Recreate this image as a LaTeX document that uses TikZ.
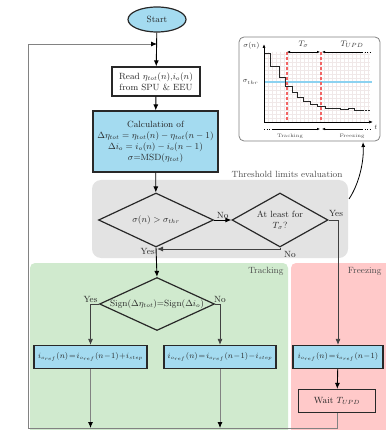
\documentclass[tikz,border=0pt]{standalone}
\usetikzlibrary{shapes.geometric,arrows.meta,calc}
\definecolor{boxblue}{RGB}{164,219,240}
\definecolor{regiongray}{RGB}{227,227,227}
\definecolor{trackgreen}{RGB}{208,234,206}
\definecolor{freezered}{RGB}{255,201,201}
\definecolor{edgedark}{RGB}{40,40,40}
\definecolor{loopgray}{RGB}{130,130,130}
\definecolor{gridc}{RGB}{240,232,232}
\definecolor{sigmablue}{RGB}{140,210,240}
\definecolor{dashred}{RGB}{242,100,100}
\begin{document}
\begin{tikzpicture}[x=1pt,y=-1pt,
  txt/.style={font=\fontsize{9}{11}\selectfont, text=black!85},
  terminal/.style={ellipse, draw=edgedark, line width=1.2pt, fill=boxblue, minimum width=58, minimum height=25, inner sep=0pt, txt},
  procbox/.style={rectangle, draw=edgedark, line width=1.2pt, inner sep=0pt, align=center, txt},
  eqbox/.style={procbox, fill=boxblue, minimum height=23, font=\fontsize{7.6}{9}\selectfont},
  decision/.style={diamond, draw=edgedark, line width=1.2pt, inner sep=0pt, align=center, txt},
  flow/.style={draw=black, line width=0.9pt, -{Latex[length=6pt,width=5pt]}},
  thinflow/.style={draw=black!75, line width=0.8pt, -{Latex[length=6pt,width=5pt]}},
  loopline/.style={draw=loopgray, line width=0.8pt},
  lbl/.style={txt, inner sep=1pt},
  regionlbl/.style={font=\fontsize{9}{11}\selectfont, text=black!70},
  tiny/.style={font=\fontsize{5}{6}\selectfont, text=black!70},
  plotlbl/.style={font=\fontsize{7}{8}\selectfont, text=black!80},
  gridline/.style={draw=gridc, line width=0.3pt}
]
\useasboundingbox (0,0) rectangle (385,430);

% background regions
\fill[regiongray, rounded corners=9pt] (92,180) rectangle (348,258);
\fill[trackgreen, rounded corners=5pt] (30,263) rectangle (288,445);
\fill[freezered, rounded corners=5pt] (291,263) rectangle (395,445);
\node[regionlbl, anchor=south east] (thrlbl) at (346,181) {Threshold limits evaluation};
\node[regionlbl, anchor=north east] (tracklbl) at (287,264) {Tracking};
\node[regionlbl, anchor=north east] (freezelbl) at (385,264) {Freezing};

% main flow nodes
\node[terminal] (start) at (157,19.5) {Start};
\node[procbox, minimum width=88, minimum height=29, fill=white] (read) at (156,81.5)
  {Read $\eta_{tot}(n)$,$i_o(n)$\\from SPU \& EEU};
\node[procbox, minimum width=125, minimum height=61, fill=boxblue] (calc) at (155.5,141.5)
  {Calculation of\\$\Delta\eta_{tot}=\eta_{tot}(n)-\eta_{tot}(n-1)$\\$\Delta i_o=i_o(n)-i_o(n-1)$\\$\sigma$=MSD($\eta_{tot}$)};
\node[decision, minimum width=115, minimum height=54, aspect=2.1] (test) at (156,220)
  {$\sigma(n)>\sigma_{thr}$};
\node[decision, minimum width=96, minimum height=54, aspect=1.8] (hold) at (280,220)
  {At least for\\$T_\sigma$?};
\node[decision, minimum width=115, minimum height=53, aspect=2.2] (sign) at (157,304)
  {Sign($\Delta\eta_{tot}$)=Sign($\Delta i_o$)};
\node[eqbox, minimum width=113] (inc) at (90.5,357)
  {$i_{o_{ref}}(n)\!=\!i_{o_{ref}}(n\!-\!1)\!+\!i_{step}$};
\node[eqbox, minimum width=112] (dec) at (220,357)
  {$i_{o_{ref}}(n)\!=\!i_{o_{ref}}(n\!-\!1)\!-\!i_{step}$};
\node[eqbox, minimum width=90] (keep) at (338,357)
  {$i_{o_{ref}}(n)\!=\!i_{o_{ref}}(n\!-\!1)$};
\node[procbox, minimum width=77, minimum height=23] (wait) at (337,401)
  {Wait $T_{UPD}$};

% junction points
\coordinate (join) at (157,44);
\coordinate (bl) at (28,428);
\coordinate (ret) at (157,249);
\coordinate (incend) at (90.5,428);
\coordinate (decend) at (220,428);

% return loop
\draw[loopline] (wait.south) |- (bl);
\draw[loopline, -{Latex[length=6pt,width=5pt,black]}] (bl) |- (join);

% connectors
\draw[flow] (start) -- (read);
\draw[flow] (read) -- (calc);
\draw[flow] (calc) -- (test);
\draw[flow] (test.east) -- node[lbl, above] {No} (hold.west);
\draw[flow] (test.south) -- node[lbl, pos=0.12, left] {Yes} (sign.north);
\draw[thinflow] (hold.south) |- (ret);
\node[lbl] (nolbl) at (290,254) {No};
\draw[thinflow] (hold.east) -| (keep.north);
\node[lbl] (yeslbl) at (336,213) {Yes};
\draw[thinflow] (sign.west) -| node[lbl, pos=0.5, above] {Yes} (inc.north);
\draw[thinflow] (sign.east) -| node[lbl, pos=0.5, above] {No} (dec.north);
\draw[flow] (keep) -- (wait);
\draw[loopline, -{Latex[length=6pt,width=5pt,black]}] (inc.south) -- (incend);
\draw[loopline, -{Latex[length=6pt,width=5pt,black]}] (dec.south) -- (decend);

% inset: sigma(n) evolution
\node[draw=loopgray, line width=0.8pt, rounded corners=5pt, fill=white,
  minimum width=141, minimum height=104, inner sep=0pt] (plotframe) at (309.5,89) {};
\foreach \gx in {264,268,...,370} \draw[gridline] (\gx,52) -- (\gx,122);
\foreach \gy in {54,58,...,122} \draw[gridline] (264,\gy) -- (370,\gy);
\draw[sigmablue, line width=1.3pt] (264,82) -- (372,82);
\draw[dashred, line width=1.1pt, dash pattern=on 3pt off 2pt] (287,52) -- (287,123);
\draw[dashred, line width=1.1pt, dash pattern=on 3pt off 2pt] (321,52) -- (321,123);
\draw[line width=1pt, black!85]
  (265,54) -- (270,54) -- (270,67) -- (279,67) -- (279,78) -- (285,78) -- (285,87)
  -- (292,87) -- (292,93) -- (297,93) -- (297,98) -- (303,98) -- (303,102)
  -- (310,102) -- (310,105) -- (317,105) -- (317,107) -- (325,107) -- (325,109)
  -- (340,109) -- (340,110) -- (348,110) -- (348,109) -- (354,109) -- (354,110.5) -- (362,110.5);
\draw[line width=0.8pt, black!85, dash pattern=on 1.5pt off 1.5pt] (362,110.5) -- (370,110.5);
\draw[line width=0.7pt, -{Latex[length=4pt,width=3pt]}] (264,122) -- (264,44);
\draw[line width=0.7pt, -{Latex[length=4pt,width=3pt]}] (264,122) -- (373,122);
\node[plotlbl, anchor=east] (sig) at (263,46) {$\sigma(n)$};
\node[plotlbl, anchor=east] (sthr) at (262,82) {$\sigma_{thr}$};
\node[plotlbl] (tl) at (376,127) {$t$};
% time spans
\draw[line width=0.5pt, {Latex[length=3pt,width=2.5pt]}-{Latex[length=3pt,width=2.5pt]}] (287,52) -- (320,52);
\draw[line width=0.5pt, {Latex[length=3pt,width=2.5pt]}-] (322,52) -- (362,52);
\draw[line width=0.5pt, dotted] (362,52) -- (370,52);
\node[plotlbl, font=\fontsize{8}{9}\selectfont] (tsig) at (303.5,44) {$T_\sigma$};
\node[plotlbl, font=\fontsize{8}{9}\selectfont] (tupd) at (352,44) {$T_{UPD}$};
\draw[line width=0.5pt, dotted] (264,129) -- (272,129);
\draw[line width=0.5pt, -{Latex[length=3pt,width=2.5pt]}] (272,129) -- (320,129);
\draw[line width=0.5pt, {Latex[length=3pt,width=2.5pt]}-] (322,129) -- (362,129);
\draw[line width=0.5pt, dotted] (362,129) -- (370,129);
\node[tiny] (trk) at (290,136) {Tracking};
\node[tiny] (frz) at (352,136) {Freezing};

% link from the threshold block to the inset
\coordinate (linkstart) at (349,199);
\coordinate (linkend) at (363,142);
\draw[line width=0.8pt, -{Latex[length=5pt,width=4pt]}] (linkstart) .. controls (359,184) and (364,162) .. (linkend);
\end{tikzpicture}
\end{document}
